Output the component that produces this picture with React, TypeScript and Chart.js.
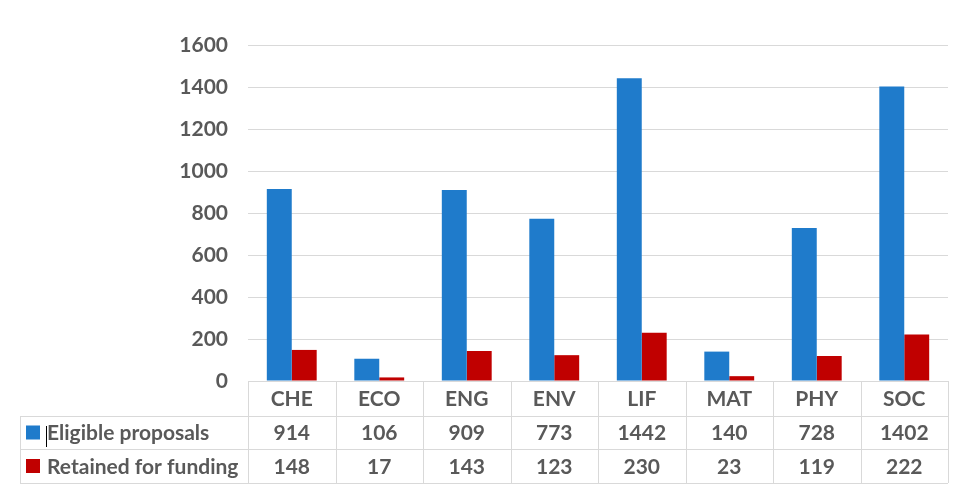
import React, { useEffect, useRef } from "react";
import { Chart, registerables } from "chart.js";

Chart.register(...registerables);

const categories = ["CHE", "ECO", "ENG", "ENV", "LIF", "MAT", "PHY", "SOC"];
const eligible = [914, 106, 909, 773, 1442, 140, 728, 1402];
const retained = [148, 17, 143, 123, 230, 23, 119, 222];
const seriesNames = ["Eligible proposals", "Retained for funding"];
const seriesColors = ["#1F7BCB", "#C00000"];
const yTicks = [0, 200, 400, 600, 800, 1000, 1200, 1400, 1600];

const FONT = "Lato, 'Open Sans', sans-serif";
const FSIZE = 21;
const TEXT = "#595959";
const GRID = "#D9D9D9";

const tablePlugin = {
  id: "dataTable",
  afterDraw(chart: any) {
    const { ctx, chartArea } = chart;
    const left = chartArea.left;
    const right = chartArea.right;
    const top = chartArea.bottom;
    const n = categories.length;
    const colW = (right - left) / n;
    const tableLeft = 20;
    const rows = [top, top + 35, top + 68, top + 102];
    ctx.save();
    ctx.strokeStyle = GRID;
    ctx.lineWidth = 1;
    ctx.beginPath();
    ctx.moveTo(left, rows[0] + 0.5);
    ctx.lineTo(right, rows[0] + 0.5);
    for (let r = 1; r < rows.length; r++) {
      ctx.moveTo(tableLeft, Math.round(rows[r]) + 0.5);
      ctx.lineTo(right, Math.round(rows[r]) + 0.5);
    }
    for (let i = 0; i <= n; i++) {
      const x = Math.round(left + i * colW) + 0.5;
      ctx.moveTo(x, rows[0]);
      ctx.lineTo(x, rows[3]);
    }
    ctx.moveTo(tableLeft + 0.5, rows[1]);
    ctx.lineTo(tableLeft + 0.5, rows[3]);
    ctx.stroke();

    ctx.fillStyle = TEXT;
    ctx.font = `bold ${FSIZE}px ${FONT}`;
    ctx.textAlign = "center";
    ctx.textBaseline = "middle";
    for (let i = 0; i < n; i++) {
      const cx = left + (i + 0.5) * colW;
      ctx.fillText(categories[i], cx, (rows[0] + rows[1]) / 2 + 1);
      ctx.fillText(String(eligible[i]), cx, (rows[1] + rows[2]) / 2 + 1);
      ctx.fillText(String(retained[i]), cx, (rows[2] + rows[3]) / 2 + 1);
    }
    ctx.textAlign = "left";
    for (let s = 0; s < 2; s++) {
      const cy = (rows[s + 1] + rows[s + 2]) / 2;
      ctx.fillStyle = seriesColors[s];
      ctx.fillRect(26, cy - 7, 14, 14);
      ctx.fillStyle = TEXT;
      ctx.fillText(seriesNames[s], 47, cy + 1);
    }
    ctx.strokeStyle = "#000";
    ctx.beginPath();
    ctx.moveTo(46.5, rows[1] + 10);
    ctx.lineTo(46.5, rows[1] + 31);
    ctx.stroke();
    ctx.restore();
  },
};

export default function App() {
  const ref = useRef<HTMLCanvasElement | null>(null);
  useEffect(() => {
    if (!ref.current) return;
    const chart = new Chart(ref.current, {
      type: "bar",
      data: {
        labels: categories,
        datasets: [
          { label: seriesNames[0], data: eligible, backgroundColor: seriesColors[0] },
          { label: seriesNames[1], data: retained, backgroundColor: seriesColors[1] },
        ],
      },
      options: {
        animation: false,
        responsive: false,
        layout: { padding: { top: 45, bottom: 120, left: 0, right: 15 } },
        datasets: { bar: { categoryPercentage: 0.57, barPercentage: 1.0 } },
        plugins: { legend: { display: false }, tooltip: { enabled: false } },
        scales: {
          x: { display: false },
          y: {
            min: 0,
            max: 1600,
            afterBuildTicks(scale: any) {
              scale.ticks = yTicks.map((v) => ({ value: v }));
            },
            afterFit(scale: any) {
              scale.width = 248;
              scale.paddingTop = 0;
              scale.paddingBottom = 0;
            },
            border: { display: false },
            grid: { color: GRID, drawTicks: false, lineWidth: 1 },
            ticks: {
              padding: 20,
              color: TEXT,
              font: { family: FONT, size: FSIZE, weight: "bold" },
              callback: (v: any) => String(v),
            },
          },
        },
      },
      plugins: [tablePlugin],
    } as any);
    return () => chart.destroy();
  }, []);
  return (
    <div style={{ position: "fixed", left: 0, top: 0, width: 963, height: 501, background: "#fff" }}>
      <canvas ref={ref} width={963} height={501} style={{ width: 963, height: 501, display: "block" }} />
    </div>
  );
}
